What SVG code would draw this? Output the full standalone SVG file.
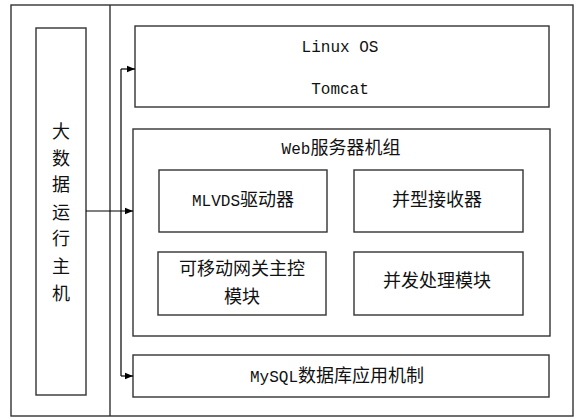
<svg xmlns="http://www.w3.org/2000/svg" width="580" height="418" viewBox="0 0 580 418">
<defs>
<marker id="arr" viewBox="0 0 10 10" refX="10" refY="5" markerWidth="8" markerHeight="8" markerUnits="userSpaceOnUse" orient="auto">
<path d="M0,1 L10,5 L0,9 z" fill="#000"/>
</marker>
<style>
rect{fill:#fff;stroke:#333;stroke-width:1.4}
.c{fill:none;stroke:#000;stroke-width:1.2}
text{font-family:"Liberation Mono","Noto Sans CJK SC",monospace;font-size:16px;fill:#111;text-anchor:middle}
.z{font-family:"Noto Sans CJK SC",sans-serif;font-size:18px}
</style>
</defs>
<rect x="0" y="0" width="580" height="418" style="stroke:none"/>
<g id="frame">
<rect x="11" y="5" width="562" height="411"/>
<line x1="110" y1="5" x2="110" y2="416" style="stroke:#333;stroke-width:1.4"/>
</g>
<g id="host">
<rect x="36" y="28" width="50" height="367"/>
<text class="z" x="61" y="138">大</text>
<text class="z" x="61" y="165">数</text>
<text class="z" x="61" y="191">据</text>
<text class="z" x="61" y="219">运</text>
<text class="z" x="61" y="245">行</text>
<text class="z" x="61" y="273">主</text>
<text class="z" x="61" y="300">机</text>
</g>
<g id="linux">
<rect x="135" y="26" width="414" height="81"/>
<text x="340" y="52">Linux OS</text>
<text x="340" y="94">Tomcat</text>
</g>
<g id="web">
<rect x="133" y="129" width="417" height="207"/>
<text x="341" y="154">Web<tspan class="z">服务器机组</tspan></text>
</g>
<g id="mlvds">
<rect x="159" y="170" width="168" height="62"/>
<text x="243" y="206">MLVDS<tspan class="z">驱动器</tspan></text>
</g>
<g id="receiver">
<rect x="354" y="170" width="169" height="62"/>
<text class="z" x="437" y="206">并型接收器</text>
</g>
<g id="gateway">
<rect x="158" y="252" width="168" height="63"/>
<text class="z" x="242" y="275">可移动网关主控</text>
<text class="z" x="242" y="303">模块</text>
</g>
<g id="concurrent">
<rect x="354" y="252" width="169" height="63"/>
<text class="z" x="437" y="287">并发处理模块</text>
</g>
<g id="mysql">
<rect x="133" y="355" width="416" height="42"/>
<text x="337" y="382">MySQL<tspan class="z">数据库应用机制</tspan></text>
</g>
<g id="connectors">
<path class="c" d="M86,211 H133" marker-end="url(#arr)"/>
<path class="c" d="M121,69 V376"/>
<path class="c" d="M121,69 H135" marker-end="url(#arr)"/>
<path class="c" d="M121,376 H133" marker-end="url(#arr)"/>
</g>
</svg>
